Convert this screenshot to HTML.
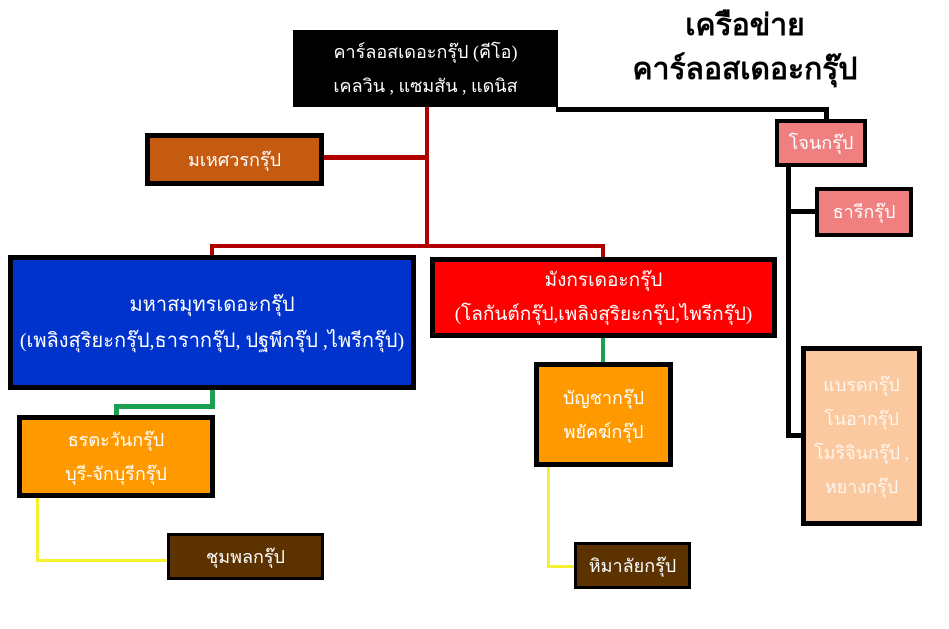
<!DOCTYPE html>
<html><head><meta charset="utf-8"><style>
body{margin:0;width:949px;height:629px;background:#fff;position:relative;overflow:hidden;font-family:"Liberation Serif","DejaVu Serif",serif;}
.b{position:absolute;box-sizing:border-box;border:5px solid #000;color:#fff;display:flex;flex-direction:column;justify-content:center;align-items:center;text-align:center;font-size:18px;line-height:34px;white-space:nowrap;}
.l{position:absolute;}
.t{position:absolute;left:595px;width:300px;text-align:center;font-family:"Liberation Sans","DejaVu Sans",sans-serif;font-weight:bold;font-size:30px;color:#000;}
</style></head><body>
<div class="t" style="top:2px">เครือข่าย</div>
<div class="t" style="top:46px">คาร์ลอสเดอะกรุ๊ป</div>

<!-- lines -->
<div class="l" style="left:425px;top:105px;width:4px;height:142px;background:#b00000"></div>
<div class="l" style="left:322px;top:155px;width:106px;height:5px;background:#b00000"></div>
<div class="l" style="left:210px;top:244px;width:395px;height:4px;background:#b00000"></div>
<div class="l" style="left:210px;top:244px;width:4px;height:14px;background:#b00000"></div>
<div class="l" style="left:601px;top:244px;width:4px;height:15px;background:#b00000"></div>
<div class="l" style="left:556px;top:107px;width:272px;height:5px;background:#000"></div>
<div class="l" style="left:824px;top:107px;width:5px;height:14px;background:#000"></div>
<div class="l" style="left:786px;top:165px;width:5px;height:273px;background:#000"></div>
<div class="l" style="left:786px;top:209px;width:30px;height:5px;background:#000"></div>
<div class="l" style="left:786px;top:433px;width:16px;height:5px;background:#000"></div>
<div class="l" style="left:210px;top:388px;width:5px;height:21px;background:#1aa050"></div>
<div class="l" style="left:114px;top:404px;width:101px;height:5px;background:#1aa050"></div>
<div class="l" style="left:114px;top:404px;width:5px;height:13px;background:#1aa050"></div>
<div class="l" style="left:601px;top:336px;width:4px;height:28px;background:#1aa050"></div>
<div class="l" style="left:36px;top:496px;width:3px;height:66px;background:#f5f030"></div>
<div class="l" style="left:36px;top:559px;width:133px;height:3px;background:#f5f030"></div>
<div class="l" style="left:547px;top:465px;width:3px;height:103px;background:#f5f030"></div>
<div class="l" style="left:547px;top:565px;width:29px;height:3px;background:#f5f030"></div>

<!-- boxes -->
<div class="b" style="left:293px;top:30px;width:265px;height:77px;background:#000">คาร์ลอสเดอะกรุ๊ป (คีโอ)<br>เคลวิน , แซมสัน , แดนิส</div>
<div class="b" style="left:145px;top:133px;width:179px;height:53px;background:#c55a11">มเหศวรกรุ๊ป</div>
<div class="b" style="left:775px;top:119px;width:92px;height:48px;background:#f08080;border-width:4px">โจนกรุ๊ป</div>
<div class="b" style="left:815px;top:187px;width:98px;height:50px;background:#f08080;border-width:4px">ธารีกรุ๊ป</div>
<div class="b" style="left:8px;top:255px;width:408px;height:135px;background:#0033cc;font-size:20px;line-height:36px">มหาสมุทรเดอะกรุ๊ป<br>(เพลิงสุริยะกรุ๊ป,ธารากรุ๊ป, ปฐพีกรุ๊ป ,ไพรีกรุ๊ป)</div>
<div class="b" style="left:430px;top:257px;width:347px;height:81px;background:#ff0000;font-size:19px">มังกรเดอะกรุ๊ป<br>(โลกันต์กรุ๊ป,เพลิงสุริยะกรุ๊ป,ไพรีกรุ๊ป)</div>
<div class="b" style="left:17px;top:415px;width:198px;height:83px;background:#ff9900">ธรตะวันกรุ๊ป<br>บุรี-จักบุรีกรุ๊ป</div>
<div class="b" style="left:534px;top:362px;width:139px;height:105px;background:#ff9900">บัญชากรุ๊ป<br>พยัคฆ์กรุ๊ป</div>
<div class="b" style="left:801px;top:346px;width:121px;height:180px;background:#fbc9a0;color:#fff5ea">แบรดกรุ๊ป<br>โนอากรุ๊ป<br>โมริจินกรุ๊ป ,<br>หยางกรุ๊ป</div>
<div class="b" style="left:167px;top:533px;width:157px;height:47px;background:#5c3300;border-width:3px">ชุมพลกรุ๊ป</div>
<div class="b" style="left:574px;top:542px;width:117px;height:47px;background:#5c3300;border-width:3px">หิมาลัยกรุ๊ป</div>
</body></html>
